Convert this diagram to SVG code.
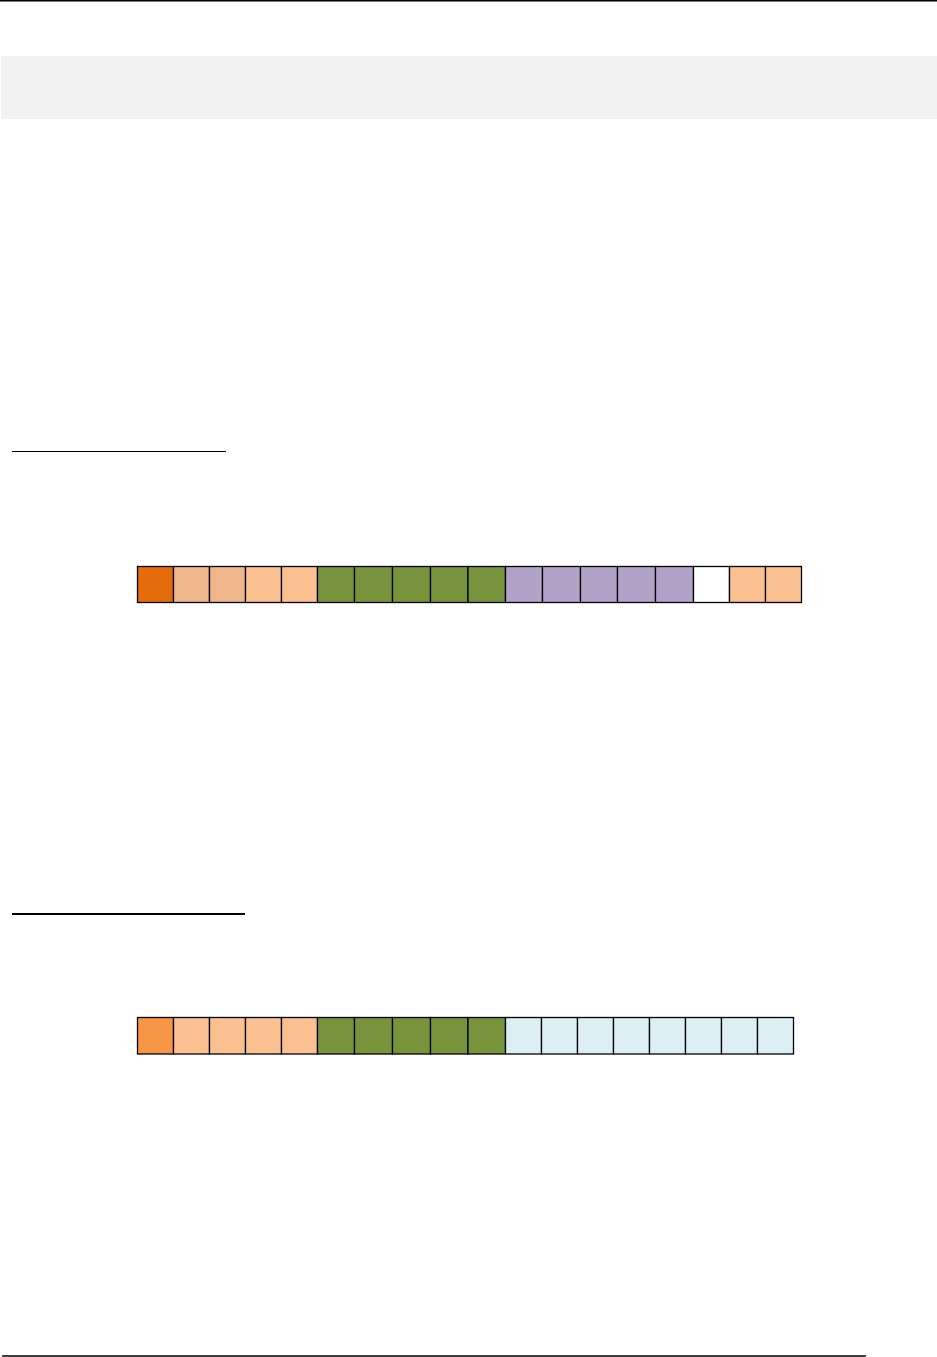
<svg xmlns="http://www.w3.org/2000/svg" width="937" height="1357" viewBox="0 0 937 1357">
<style>
.c{stroke:#000;stroke-width:1.3}
.o1{fill:#e46c0a}.o2{fill:#efb58b}.o3{fill:#fac090}.g{fill:#77933c}.p{fill:#b2a2c7}.w{fill:#fff}.o4{fill:#f79646}.b{fill:#dbeef4}
</style>
<rect width="937" height="1357" fill="#fff"/>
<g id="header">
<line x1="0" y1="0.7" x2="937" y2="0.7" stroke="#000" stroke-width="1.4"/>
<rect x="1" y="56" width="936" height="63" fill="#f2f2f2"/>
</g>
<g id="underline1"><line x1="12" y1="451.5" x2="226" y2="451.5" stroke="#000" stroke-width="1.2"/></g>
<g id="underline2"><line x1="12" y1="914" x2="245" y2="914" stroke="#000" stroke-width="2"/></g>
<g id="row1">
<rect class="c o1" x="137.5" y="566.5" width="36" height="36"/>
<rect class="c o2" x="173.5" y="566.5" width="36" height="36"/>
<rect class="c o2" x="209.5" y="566.5" width="36" height="36"/>
<rect class="c o3" x="245.5" y="566.5" width="36" height="36"/>
<rect class="c o3" x="281.5" y="566.5" width="36" height="36"/>
<rect class="c g" x="317.5" y="566.5" width="37" height="36"/>
<rect class="c g" x="354.5" y="566.5" width="38" height="36"/>
<rect class="c g" x="392.5" y="566.5" width="38" height="36"/>
<rect class="c g" x="430.5" y="566.5" width="37.5" height="36"/>
<rect class="c g" x="468" y="566.5" width="37.5" height="36"/>
<rect class="c p" x="505.5" y="566.5" width="37" height="36"/>
<rect class="c p" x="542.5" y="566.5" width="38" height="36"/>
<rect class="c p" x="580.5" y="566.5" width="37" height="36"/>
<rect class="c p" x="617.5" y="566.5" width="38" height="36"/>
<rect class="c p" x="655.5" y="566.5" width="38" height="36"/>
<rect class="c w" x="693.5" y="566.5" width="36" height="36"/>
<rect class="c o3" x="729.5" y="566.5" width="36" height="36"/>
<rect class="c o3" x="765.5" y="566.5" width="36" height="36"/>
</g>
<g id="row2">
<rect class="c o4" x="137.5" y="1017.5" width="36" height="36.5"/>
<rect class="c o3" x="173.5" y="1017.5" width="36" height="36.5"/>
<rect class="c o3" x="209.5" y="1017.5" width="36" height="36.5"/>
<rect class="c o3" x="245.5" y="1017.5" width="36" height="36.5"/>
<rect class="c o3" x="281.5" y="1017.5" width="36" height="36.5"/>
<rect class="c g" x="317.5" y="1017.5" width="37" height="36.5"/>
<rect class="c g" x="354.5" y="1017.5" width="38" height="36.5"/>
<rect class="c g" x="392.5" y="1017.5" width="38" height="36.5"/>
<rect class="c g" x="430.5" y="1017.5" width="37.5" height="36.5"/>
<rect class="c g" x="468" y="1017.5" width="37.5" height="36.5"/>
<rect class="c b" x="505.5" y="1017.5" width="36" height="36.5"/>
<rect class="c b" x="541.5" y="1017.5" width="36" height="36.5"/>
<rect class="c b" x="577.5" y="1017.5" width="36" height="36.5"/>
<rect class="c b" x="613.5" y="1017.5" width="36" height="36.5"/>
<rect class="c b" x="649.5" y="1017.5" width="36" height="36.5"/>
<rect class="c b" x="685.5" y="1017.5" width="36" height="36.5"/>
<rect class="c b" x="721.5" y="1017.5" width="36" height="36.5"/>
<rect class="c b" x="757.5" y="1017.5" width="36" height="36.5"/>
</g>
<g id="footer"><line x1="2" y1="1356" x2="866" y2="1356" stroke="#000" stroke-width="1.4"/></g>
</svg>
